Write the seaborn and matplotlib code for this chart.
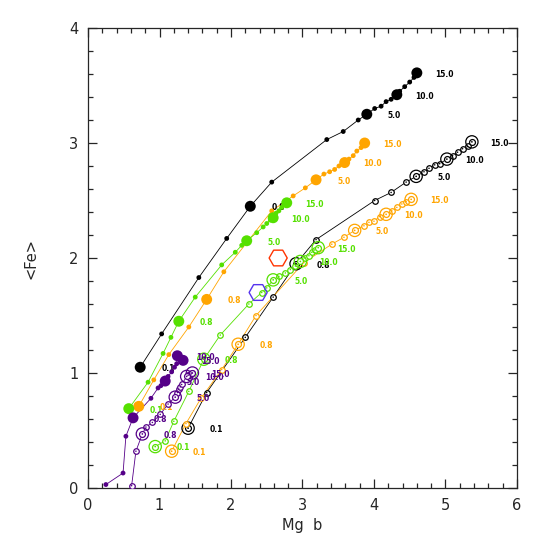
import numpy as np
import pandas as pd
import matplotlib
matplotlib.use("Agg")
import matplotlib.pyplot as plt
from matplotlib.ticker import MultipleLocator
import seaborn as sns

# model tracks: Mg b vs <Fe>, big markers at ages 0.1, 0.8, 5, 10, 15 Gyr
AGE_LABELS = ["0.1", "0.8", "5.0", "10.0", "15.0"]
BIG_IDX = [0, 4, 9, 14, 19]
# purple tracks: the 0.1 Gyr point falls below the plot
BIG_IDX_P = [3, 8, 13, 18]
BIG_IDX_PO = [2, 7, 12, 17]

# black, filled
bf_x = [0.73, 1.03, 1.55, 1.94, 2.27, 2.57, 3.34, 3.57, 3.78, 3.90,
        4.01, 4.10, 4.17, 4.24, 4.32, 4.36, 4.43, 4.50, 4.56, 4.60]
bf_y = [1.05, 1.34, 1.83, 2.17, 2.45, 2.66, 3.03, 3.10, 3.20, 3.25,
        3.30, 3.32, 3.36, 3.38, 3.42, 3.45, 3.49, 3.53, 3.57, 3.61]
# black, open
bo_x = [1.40, 1.66, 2.20, 2.59, 2.91, 3.19, 4.01, 4.24, 4.45, 4.59,
        4.70, 4.77, 4.85, 4.92, 5.02, 5.10, 5.17, 5.24, 5.31, 5.37]
bo_y = [0.52, 0.83, 1.31, 1.66, 1.95, 2.16, 2.50, 2.57, 2.66, 2.71,
        2.75, 2.78, 2.81, 2.82, 2.86, 2.89, 2.92, 2.95, 2.97, 3.01]
# orange, filled
of_x = [0.71, 0.92, 1.13, 1.41, 1.66, 1.90, 2.57, 2.87, 3.04, 3.19,
        3.30, 3.38, 3.45, 3.51, 3.59, 3.65, 3.71, 3.76, 3.82, 3.87]
of_y = [0.71, 0.94, 1.16, 1.40, 1.64, 1.88, 2.41, 2.54, 2.61, 2.68,
        2.73, 2.75, 2.77, 2.80, 2.83, 2.86, 2.89, 2.93, 2.96, 3.00]
# orange, open
oo_x = [1.17, 1.37, 1.58, 1.87, 2.10, 2.35, 3.02, 3.41, 3.58, 3.73,
        3.86, 3.93, 4.00, 4.08, 4.17, 4.25, 4.32, 4.39, 4.45, 4.52]
oo_y = [0.32, 0.56, 0.78, 1.03, 1.25, 1.50, 1.96, 2.12, 2.18, 2.24,
        2.28, 2.31, 2.32, 2.36, 2.38, 2.41, 2.44, 2.47, 2.49, 2.51]
# green, filled
gf_x = [0.57, 0.84, 1.05, 1.16, 1.27, 1.50, 1.87, 2.06, 2.15, 2.22,
        2.36, 2.45, 2.50, 2.55, 2.59, 2.63, 2.67, 2.71, 2.76, 2.78]
gf_y = [0.69, 0.92, 1.17, 1.31, 1.45, 1.66, 1.94, 2.05, 2.11, 2.15,
        2.22, 2.27, 2.30, 2.33, 2.35, 2.39, 2.41, 2.44, 2.47, 2.48]
# green, open
go_x = [0.94, 1.08, 1.20, 1.41, 1.62, 1.85, 2.25, 2.43, 2.50, 2.59,
        2.67, 2.76, 2.83, 2.90, 2.97, 3.03, 3.09, 3.13, 3.17, 3.22]
go_y = [0.36, 0.41, 0.58, 0.84, 1.12, 1.33, 1.60, 1.70, 1.74, 1.81,
        1.84, 1.87, 1.90, 1.93, 1.97, 2.00, 2.02, 2.05, 2.07, 2.09]
# purple, filled
pf_x = [0.25, 0.49, 0.53, 0.63, 0.88, 0.98, 1.02, 1.05, 1.08,
        1.12, 1.17, 1.21, 1.24, 1.25, 1.27, 1.29, 1.31, 1.32, 1.33]
pf_y = [0.03, 0.13, 0.45, 0.61, 0.78, 0.87, 0.89, 0.91, 0.93,
        0.97, 1.01, 1.05, 1.08, 1.15, 1.14, 1.13, 1.13, 1.12, 1.11]
# purple, open
po_x = [0.61, 0.67, 0.76, 0.81, 0.90, 1.01, 1.12, 1.22,
        1.25, 1.27, 1.29, 1.31, 1.38, 1.40, 1.42, 1.44, 1.45, 1.46]
po_y = [0.02, 0.32, 0.47, 0.53, 0.57, 0.64, 0.73, 0.79,
        0.83, 0.86, 0.88, 0.90, 0.97, 0.98, 0.99, 0.99, 1.00, 1.00]

# observed points (hexagons)
obs_x = [2.66, 2.38]
obs_y = [2.00, 1.70]
obs_colors = ["#ff3300", "#5533ee"]

BLACK = "black"
ORANGE = "#ffa500"
GREEN = "#55e000"
PURPLE = "#550088"

tracks = [
    (bf_x, bf_y, BLACK, True, BIG_IDX, AGE_LABELS),
    (bo_x, bo_y, BLACK, False, BIG_IDX, AGE_LABELS),
    (of_x, of_y, ORANGE, True, BIG_IDX, AGE_LABELS),
    (oo_x, oo_y, ORANGE, False, BIG_IDX, AGE_LABELS),
    (gf_x, gf_y, GREEN, True, BIG_IDX, AGE_LABELS),
    (go_x, go_y, GREEN, False, BIG_IDX, AGE_LABELS),
    (pf_x, pf_y, PURPLE, True, BIG_IDX_P, AGE_LABELS[1:]),
    (po_x, po_y, PURPLE, False, BIG_IDX_PO, AGE_LABELS[1:]),
]

sns.set_style("ticks")
plt.rcParams["font.family"] = ["DejaVu Sans"]

fig = plt.figure(figsize=(5.45, 5.45), dpi=100)
ax = fig.add_axes([0.1615, 0.1046, 0.787, 0.844])

for xs, ys, color, filled, big_idx, labels in tracks:
    df = pd.DataFrame({"x": xs, "y": ys})
    big = df.iloc[big_idx]
    small = df.drop(index=big_idx)
    sns.lineplot(data=df, x="x", y="y", sort=False, estimator=None,
                 color=color, lw=0.6, ax=ax)
    if filled:
        sns.scatterplot(data=small, x="x", y="y", color=color, s=12,
                        edgecolor="none", ax=ax, zorder=3)
        sns.scatterplot(data=big, x="x", y="y", color=color, s=62,
                        edgecolor="none", ax=ax, zorder=3)
    else:
        sns.scatterplot(data=small, x="x", y="y", facecolor="white",
                        edgecolor=color, linewidth=0.9, s=16, ax=ax, zorder=3)
        sns.scatterplot(data=small, x="x", y="y", color=color, s=1.2,
                        edgecolor="none", ax=ax, zorder=4)
        sns.scatterplot(data=big, x="x", y="y", facecolor="none",
                        edgecolor=color, linewidth=0.9, s=78, ax=ax, zorder=3)
        sns.scatterplot(data=big, x="x", y="y", facecolor="white",
                        edgecolor=color, linewidth=0.9, s=18, ax=ax, zorder=3)
        sns.scatterplot(data=big, x="x", y="y", color=color, s=1.5,
                        edgecolor="none", ax=ax, zorder=4)
    for i, lab in zip(big_idx, labels):
        ax.annotate(lab, (xs[i], ys[i]), xytext=(20, -1),
                    textcoords="offset points", ha="center", va="center",
                    fontsize=5.5, fontweight="bold", color=color,
                    annotation_clip=True)

obs = pd.DataFrame({"x": obs_x, "y": obs_y, "c": obs_colors})
for _, r in obs.iterrows():
    sns.scatterplot(x=[r.x], y=[r.y], marker="H", s=170, facecolor="none",
                    edgecolor=r.c, linewidth=1.0, ax=ax, zorder=5)

ax.set_xlim(0, 6)
ax.set_ylim(0, 4)
ax.xaxis.set_major_locator(MultipleLocator(1))
ax.xaxis.set_minor_locator(MultipleLocator(0.2))
ax.yaxis.set_major_locator(MultipleLocator(1))
ax.yaxis.set_minor_locator(MultipleLocator(0.2))
ax.tick_params(which="both", direction="in", top=True, right=True,
               width=0.9, labelsize=10.5, pad=7)
ax.tick_params(which="major", length=6.5)
ax.tick_params(which="minor", length=3.5)
for sp in ax.spines.values():
    sp.set_linewidth(0.9)
ax.set_xlabel("Mg  b", fontsize=10.5, labelpad=4)
ax.set_ylabel("<Fe>", fontsize=10.5, labelpad=22)

fig.savefig("out.png", dpi=100)
